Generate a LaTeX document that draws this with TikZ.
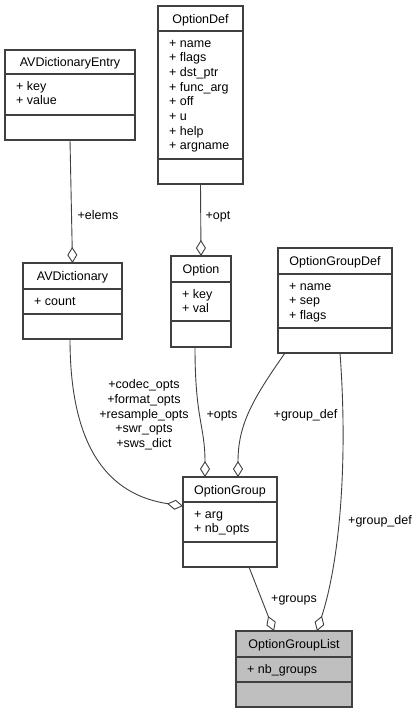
\documentclass[tikz,border=0pt]{standalone}
\usepackage{fontspec}
\setmainfont{Liberation Sans}
\usetikzlibrary{arrows.meta}
\definecolor{edgecol}{HTML}{404040}
\definecolor{listfill}{HTML}{BFBFBF}
\tikzset{
  classbox/.style={draw=edgecol, line width=1.2pt, inner sep=0pt, outer sep=0pt},
  boxline/.style={draw=edgecol, line width=1.2pt},
  umltitle/.style={anchor=base, inner sep=0pt, font=\fontsize{12.5}{14.7}\selectfont},
  umlattr/.style={anchor=base west, inner sep=0pt, font=\fontsize{12.5}{14.7}\selectfont},
  rel/.style={draw=edgecol, line width=0.9pt, -{Diamond[open, length=16pt, width=10pt, line width=0.9pt]}},
  rellabel/.style={anchor=base, inner sep=0pt, font=\fontsize{12.5}{14.7}\selectfont},
}
% \umlbox[fill]{name}{x1}{y1}{x2}{y2}{sep1}{sep2}
\newcommand\umlbox[8][white]{%
  \def\ux{#3}\def\uxx{#5}\def\uy{#4}\def\us{#7}\def\un{#2}%
  \node[classbox, fill=#1, minimum width={#5-#3}, minimum height={#6-#4}, anchor=north west] (#2) at (#3,#4) {};
  \draw[boxline] (#3,#7) -- (#5,#7);
  \draw[boxline] (#3,#8) -- (#5,#8);
}
% \umltext{title}{attr1,attr2,...}
\newcommand\umltext[2]{%
  \node[umltitle] (\un-title) at ({(\ux+\uxx)/2}, {(\uy+\us)/2+4.6}) {#1};
  \foreach \a [count=\i] in {#2} {
    \node[umlattr] (\un-a\i) at ({\ux+11}, {\us+16+(\i-1)*14.7}) {\a};
  }
}
\begin{document}
\begin{tikzpicture}[x=1pt, y=-1pt]
\useasboundingbox (0,0) rectangle (418,713);
\fill[white] (0,0) rectangle (418,713);

\umlbox{avde}{5}{50}{135}{140}{74}{115}
\umltext{AVDictionaryEntry}{+ key,+ value}

\umlbox{odef}{158}{6}{243}{184}{31}{159}
\umltext{OptionDef}{+ name,+ flags,+ dst\_ptr,+ func\_arg,+ off,+ u,+ help,+ argname}

\umlbox{avd}{23}{263}{122}{339}{289}{314}
\umltext{AVDictionary}{+ count}

\umlbox{opt}{171}{256}{231}{347}{282}{321}
\umltext{Option}{+ key,+ val}

\umlbox{ogd}{278}{248}{392}{353}{274}{328}
\umltext{OptionGroupDef}{+ name,+ sep,+ flags}

\umlbox{og}{183}{477}{277}{567}{502}{542}
\umltext{OptionGroup}{+ arg,+ nb\_opts}

\umlbox[listfill]{ogl}{236}{631}{352}{707}{657}{682}
\umltext{OptionGroupList}{+ nb\_groups}

% connectors
\draw[rel] (avde.south) -- (avd.north);
\node[rellabel] (l-elems) at (98,219) {+elems};

\draw[rel] (odef.south) -- (opt.north);
\node[rellabel] (l-opt) at (218,219) {+opt};

\draw[rel] ([xshift=-6pt]opt.south) .. controls (195,420) and (205,425) .. ([xshift=-25pt]og.north);
\node[rellabel] (l-opts) at (222,418) {+opts};

\draw[rel] ([xshift=-50pt]ogd.south) .. controls (252,400) and (238,425) .. ([xshift=8pt]og.north);
\node[rellabel] (l-gd1) at (305.5,418) {+group\_def};

\draw[rel] ([xshift=5pt]ogd.south) .. controls (348,460) and (340,560) .. ([xshift=23pt]ogl.north);
\node[rellabel] (l-gd2) at (380,524) {+group\_def};

\draw[rel] ([xshift=19pt]og.south) -- ([xshift=-20pt]ogl.north);
\node[rellabel] (l-groups) at (294,602) {+groups};

\draw[rel] ([xshift=-2.5pt]avd.south) .. controls (70,450) and (110,495) .. ([yshift=-29pt]og.north west);
\foreach \t [count=\i] in {+codec\_opts,+format\_opts,+resample\_opts,+swr\_opts,+sws\_dict} {
  \node[rellabel] (l-avd\i) at (144,{388.7+(\i-1)*14.7}) {\t};
}
\end{tikzpicture}
\end{document}
